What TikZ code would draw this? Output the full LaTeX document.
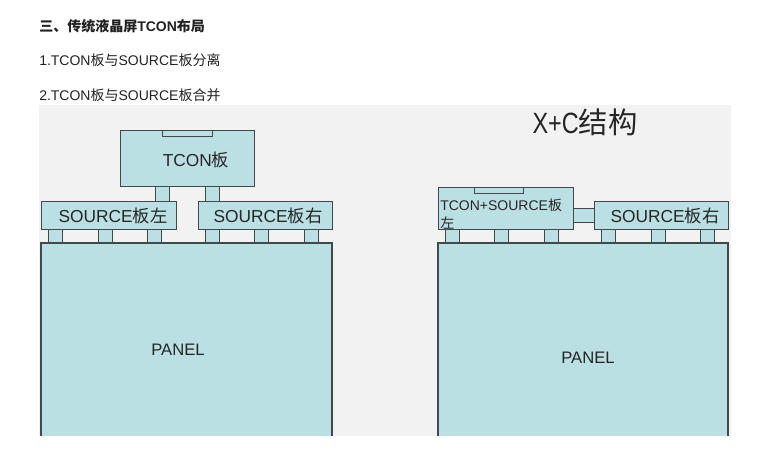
\documentclass[tikz,border=0pt]{standalone}
\usepackage{fontspec}
\setmainfont{Liberation Sans}
\newfontfamily\cjk{Noto Sans CJK SC}
\definecolor{bgray}{HTML}{F2F2F2}
\definecolor{bfill}{HTML}{BBE0E3}
\definecolor{bline}{HTML}{404A4C}
\definecolor{htext}{HTML}{222222}
\tikzset{
  board/.style={draw=bline, fill=bfill, line width=1.1pt, inner sep=0pt, anchor=north west},
  lbl/.style={inner sep=0pt, text=black!85},
  head/.style={inner sep=0pt, anchor=west, text=htext, font=\fontsize{10.5pt}{12pt}\selectfont},
}
\begin{document}
\begin{tikzpicture}[x=0.75pt, y=-0.75pt]
\useasboundingbox (0,0) rectangle (771,468);
% headings
\node[head, font=\fontsize{10.5pt}{12pt}\selectfont\bfseries] (h0) at (39,26) {{\cjk\bfseries 三、传统液晶屏}TCON{\cjk\bfseries 布局}};
\node[head] (h1) at (39,60) {1.TCON{\cjk 板与}SOURCE{\cjk 板分离}};
\node[head] (h2) at (39,95) {2.TCON{\cjk 板与}SOURCE{\cjk 板合并}};
% background
\fill[bgray] (39,105) rectangle (731,436);
% ---------- left diagram ----------
\node[board, minimum width=134*0.75pt, minimum height=56*0.75pt] (tcon) at (120,130) {};
\node[board, minimum width=50*0.75pt, minimum height=6*0.75pt] (tab1) at (162,130) {};
\node[lbl, font=\fontsize{13pt}{15pt}\selectfont] (tconl) at (196,160) {TCON{\cjk 板}};
\node[board, minimum width=14*0.75pt, minimum height=15*0.75pt] (c1) at (155,186) {};
\node[board, minimum width=14*0.75pt, minimum height=15*0.75pt] (c2) at (205,186) {};
\node[board, minimum width=135*0.75pt, minimum height=28*0.75pt] (srcL) at (41,201) {};
\node[board, minimum width=134*0.75pt, minimum height=28*0.75pt] (srcR) at (198,201) {};
\node[lbl, font=\fontsize{13pt}{15pt}\selectfont] at (113,216) {SOURCE{\cjk 板左}};
\node[lbl, font=\fontsize{13pt}{15pt}\selectfont] at (268,216) {SOURCE{\cjk 板右}};
\foreach \i/\xx in {a/48,b/98,c/147,d/205,e/254,f/304}{
  \node[board, minimum width=14*0.75pt, minimum height=14*0.75pt] (p\i) at (\xx,229) {};
}
\fill[bfill] (41,243) rectangle (332,436);
\draw[bline, line width=1.1pt] (41,436) -- (41,243) -- (332,243) -- (332,436);
\node[lbl, font=\fontsize{12.5pt}{15pt}\selectfont] (panL) at (178,350) {PANEL};
% ---------- right diagram ----------
\node[inner sep=0pt, text=black!85, font=\fontsize{22pt}{24pt}\selectfont] (xc) at (585,122) {\scalebox{0.8}[1]{X+C}{\cjk 结构}};
\node[board, minimum width=135*0.75pt, minimum height=42*0.75pt] (ts) at (438,187) {};
\node[board, minimum width=49*0.75pt, minimum height=6*0.75pt] (tab2) at (474,187) {};
\node[inner sep=0pt, anchor=north west, align=left, text=black!85, font=\fontsize{10.5pt}{13.5pt}\selectfont] (tsl) at (440,198) {TCON+SOURCE{\cjk 板}\\{\cjk 左}};
\node[board, minimum width=21*0.75pt, minimum height=14*0.75pt] (cc) at (573,208) {};
\node[board, minimum width=134*0.75pt, minimum height=28*0.75pt] (srcR2) at (594,201) {};
\node[lbl, font=\fontsize{13pt}{15pt}\selectfont] at (665,216) {SOURCE{\cjk 板右}};
\foreach \i/\xx in {a/445,b/494,c/544,d/601,e/651,f/700}{
  \node[board, minimum width=14*0.75pt, minimum height=14*0.75pt] (q\i) at (\xx,229) {};
}
\fill[bfill] (438,243) rectangle (728,436);
\draw[bline, line width=1.1pt] (438,436) -- (438,243) -- (728,243) -- (728,436);
\node[lbl, font=\fontsize{12.5pt}{15pt}\selectfont] (panR) at (588,358) {PANEL};
\end{tikzpicture}
\end{document}
